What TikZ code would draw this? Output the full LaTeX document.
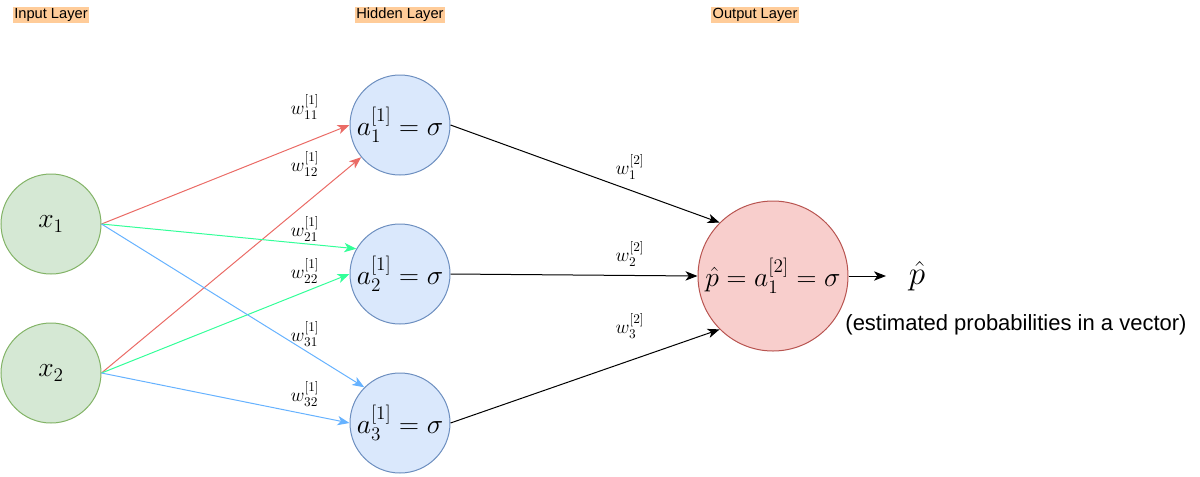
\documentclass[tikz,border=0pt]{standalone}
\usepackage[no-math]{fontspec}
\usepackage{amsmath}
\usepackage{amssymb}
\usetikzlibrary{arrows.meta}
\usetikzlibrary{calc}

\newfontfamily\arialfont{Liberation Sans}

\definecolor{inFill}{RGB}{213,232,212}
\definecolor{inLine}{RGB}{130,179,102}
\definecolor{hidFill}{RGB}{218,232,252}
\definecolor{hidLine}{RGB}{108,142,191}
\definecolor{outFill}{RGB}{248,206,204}
\definecolor{outLine}{RGB}{184,84,80}
\definecolor{wRed}{RGB}{234,107,102}
\definecolor{wGreen}{RGB}{51,255,153}
\definecolor{wBlue}{RGB}{102,178,255}
\definecolor{hdrBg}{RGB}{255,204,153}

\tikzset{
  neuron/.style={circle, draw, line width=0.75pt, inner sep=0pt},
  layerhdr/.style={fill=hdrBg, inner sep=1pt, font=\arialfont\fontsize{11}{12}\selectfont},
  wlbl/.style={inner sep=0.75pt, font=\fontsize{14.5}{16}\selectfont},
  conn/.style={line width=0.75pt, -{Stealth[length=9pt,width=7pt,inset=2.5pt]}},
}

\begin{document}
\begin{tikzpicture}[x=0.75pt,y=0.75pt,yscale=-1,xscale=1]
\useasboundingbox (0,0) rectangle (1200,476);

% Layer titles
\node [layerhdr] (hIn) at (51,15) {Input Layer};
\node [layerhdr] (hHid) at (400,15) {Hidden Layer};
\node [layerhdr] (hOut) at (755,15) {Output Layer};

%Shape: Circle (inputs)
\node [neuron, fill=inFill, draw=inLine, minimum size=75pt, font=\fontsize{20}{24}\selectfont] (x1) at (51,224) {\makebox[0pt]{$x_1$}};
\node [neuron, fill=inFill, draw=inLine, minimum size=75pt, font=\fontsize{20}{24}\selectfont] (x2) at (51,373) {\makebox[0pt]{$x_2$}};

%Shape: Circle (hidden)
\node [neuron, fill=hidFill, draw=hidLine, minimum size=75pt, font=\fontsize{20}{24}\selectfont] (a1) at (400,125) {\makebox[0pt]{$a^{[1]}_1=\sigma$}};
\node [neuron, fill=hidFill, draw=hidLine, minimum size=75pt, font=\fontsize{20}{24}\selectfont] (a2) at (400,274) {\makebox[0pt]{$a^{[1]}_2=\sigma$}};
\node [neuron, fill=hidFill, draw=hidLine, minimum size=75pt, font=\fontsize{20}{24}\selectfont] (a3) at (400,423) {\makebox[0pt]{$a^{[1]}_3=\sigma$}};

%Shape: Circle (output)
\node [neuron, fill=outFill, draw=outLine, minimum size=112.5pt, font=\fontsize{20}{24}\selectfont] (out) at (773,276) {\makebox[0pt]{$\hat{p}=a^{[2]}_1=\sigma$}};

%Straight Lines (layer 1)
\draw [conn, wRed] (x1.east) -- (a1.west);
\draw [conn, wRed] (x2.east) -- (a1);
\draw [conn, wGreen] (x1.east) -- (a2.150);
\draw [conn, wGreen] (x2.east) -- (a2.west);
\draw [conn, wBlue] (x1.east) -- (a3.135);
\draw [conn, wBlue] (x2.east) -- (a3.west);

%Straight Lines (layer 2)
\draw [conn] (a1.east) -- (out.135);
\draw [conn] (a2.east) -- (out.west);
\draw [conn] (a3.east) -- (out.225);

%Straight Lines (output)
\coordinate (pEnd) at (886,276);
\draw [conn] (out.east) -- (pEnd);

% Text Node
\node [wlbl] (w11) at (305,107) {$w^{[1]}_{11}$};
\node [wlbl] (w12) at (305,164) {$w^{[1]}_{12}$};
\node [wlbl] (w21) at (305,229) {$w^{[1]}_{21}$};
\node [wlbl] (w22) at (305,271) {$w^{[1]}_{22}$};
\node [wlbl] (w31) at (305,334) {$w^{[1]}_{31}$};
\node [wlbl] (w32) at (305,394) {$w^{[1]}_{32}$};
% Text Node
\node [wlbl] (v1) at (630,167) {$w^{[2]}_1$};
\node [wlbl] (v2) at (630,254) {$w^{[2]}_2$};
\node [wlbl] (v3) at (630,326) {$w^{[2]}_3$};
% Text Node
\node [inner sep=0.75pt, font=\fontsize{26}{30}\selectfont] (phat) at (917,276) {$\hat{p}$};
\node [inner sep=0.75pt, font=\arialfont\fontsize{16.5}{20}\selectfont] (pnote) at (1016,325) {(estimated probabilities in a vector)};

\end{tikzpicture}
\end{document}
